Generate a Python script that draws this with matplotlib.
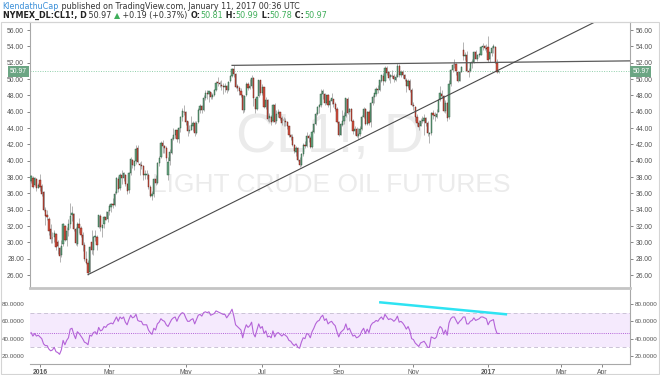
import matplotlib
matplotlib.use("Agg")
import matplotlib.pyplot as plt
import matplotlib.transforms as mtransforms
import numpy as np
import pandas as pd

# daily bars CL1!, Dec 24 2015 .. Jan 11 2017
opens = [
    37.50, 37.90, 37.00, 37.70, 36.60,
    37.60, 36.90, 36.20, 34.00, 33.40, 32.90, 31.60, 30.50, 30.60, 31.00, 30.00, 29.30, 28.40, 29.80, 32.00, 30.30, 31.50, 32.30, 33.30,
    33.50, 31.60, 29.80, 32.30, 31.70, 30.90, 29.70, 28.00, 27.50, 26.40, 30.00, 29.10, 30.60, 30.70, 31.90, 33.20, 31.80, 32.20, 33.10, 32.90,
    33.80, 34.30, 34.70, 34.60, 36.00, 37.80, 36.60, 38.30, 37.90, 38.30, 37.20, 36.40, 38.50, 40.10, 39.40, 40.00, 41.50, 39.60, 39.50, 39.30, 38.30, 38.30,
    38.30, 36.80, 35.70, 35.90, 37.80, 37.30, 39.70, 40.40, 42.20, 41.80, 41.50, 38.30, 39.90, 41.00, 42.60, 43.20, 43.70, 42.60, 44.00, 45.30, 46.00,
    45.90, 44.80, 43.60, 43.80, 44.30, 44.60, 43.40, 44.70, 46.20, 46.70, 46.20, 47.70, 48.30, 48.20, 48.40, 47.80, 48.10, 48.60, 49.60, 49.50, 49.30,
    49.10, 49.00, 49.20, 48.60, 49.70, 50.40, 51.20, 50.60, 49.10, 48.90, 48.50, 48.00, 46.20, 48.00, 49.40, 48.90, 49.10, 50.10, 47.60, 46.30, 47.90, 49.90,
    48.30, 49.00, 46.60, 47.40, 45.20, 45.40, 44.80, 46.80, 44.80, 45.70, 45.90, 45.20, 45.00, 44.90, 44.70, 44.20, 43.10, 42.90, 41.90, 41.10,
    41.60, 40.10, 39.50, 40.80, 41.90, 41.80, 43.00, 42.80, 41.70, 43.50, 44.50, 45.70, 46.60, 46.80, 48.20, 48.20, 47.10, 48.10, 46.80, 47.30, 47.60, 47.00, 46.30,
    44.70, 43.20, 44.40, 44.80, 45.50, 47.60, 45.90, 46.30, 44.90, 43.60, 43.90, 43.00, 43.30, 43.90, 45.30, 46.30, 44.50, 45.90, 44.70, 47.10, 47.80,
    48.20, 48.80, 48.70, 49.80, 50.40, 49.80, 51.30, 50.80, 50.20, 50.40, 50.40, 49.90, 50.30, 51.60, 50.50, 50.80, 50.50, 49.90, 49.20, 49.70, 48.70,
    46.80, 46.60, 45.30, 44.60, 44.30, 44.90, 44.80, 45.20, 44.60, 43.30, 43.40, 45.80, 45.60, 45.40, 46.00, 47.50, 48.20, 47.90, 46.10, 47.10, 45.30,
    49.40, 51.10, 51.80, 51.80, 50.90, 49.80, 50.80, 53.50, 52.80, 53.00, 51.00, 51.00, 51.90, 52.10, 53.30, 52.50, 52.90, 53.00, 53.90, 54.00, 53.80,
    53.90, 52.40, 53.20, 53.80, 53.90, 51.90, 50.81,
]
highs = [
    38.30, 38.10, 38.00, 37.90, 37.30,
    38.39, 37.10, 36.30, 34.30, 34.00, 33.10, 32.20, 31.30, 31.50, 31.10, 30.30, 29.40, 30.25, 32.35, 32.10, 31.90, 32.90, 34.82, 34.40,
    33.60, 31.90, 32.50, 33.00, 32.00, 31.30, 30.00, 29.00, 27.80, 29.50, 31.50, 30.80, 31.50, 30.90, 33.40, 33.50, 32.30, 33.20, 33.80, 34.00,
    34.70, 34.80, 35.40, 36.30, 38.00, 38.10, 38.50, 38.90, 38.60, 38.40, 37.30, 38.60, 40.50, 40.20, 40.00, 41.90, 41.90, 39.80, 39.90, 39.50, 38.90, 38.80,
    38.50, 37.00, 36.30, 37.90, 38.20, 39.80, 40.60, 42.40, 42.50, 41.90, 41.80, 40.40, 41.40, 42.90, 44.00, 43.80, 43.80, 44.10, 45.50, 46.50, 46.80,
    46.10, 44.90, 44.40, 45.50, 44.90, 44.90, 44.80, 46.40, 46.90, 46.80, 48.00, 48.70, 48.70, 48.50, 48.40, 48.30, 48.80, 49.80, 50.20, 49.70, 49.90,
    49.50, 49.50, 49.30, 49.80, 50.50, 51.34, 51.67, 50.70, 49.40, 49.10, 48.90, 48.10, 48.10, 49.60, 49.60, 50.00, 50.50, 50.20, 47.70, 47.90, 49.90, 49.90,
    49.40, 49.00, 47.80, 47.60, 45.80, 45.60, 46.90, 47.10, 46.20, 46.30, 46.00, 45.50, 45.40, 45.20, 44.90, 44.30, 43.30, 43.30, 42.00, 41.80,
    41.70, 40.50, 41.00, 42.20, 42.40, 43.50, 43.30, 43.00, 43.80, 44.60, 45.90, 46.70, 47.00, 48.80, 48.80, 48.30, 48.10, 48.20, 47.50, 48.30, 47.60, 47.20, 46.60,
    44.90, 44.60, 46.20, 45.90, 47.70, 47.80, 46.50, 46.40, 45.10, 44.20, 44.10, 44.00, 44.20, 45.60, 46.60, 46.40, 46.10, 46.20, 47.20, 48.00, 48.30,
    49.00, 49.30, 49.90, 50.50, 50.70, 51.60, 51.60, 51.00, 50.60, 51.10, 50.60, 50.60, 51.93, 51.80, 51.10, 51.10, 50.60, 50.10, 50.00, 50.00, 48.90,
    47.20, 46.70, 45.70, 45.00, 45.20, 45.50, 45.70, 45.40, 44.80, 43.50, 46.00, 46.20, 46.00, 46.30, 47.60, 49.20, 48.60, 48.00, 47.40, 47.20, 49.90,
    51.20, 51.90, 52.40, 51.90, 51.00, 51.00, 51.60, 54.51, 53.30, 53.40, 51.30, 52.10, 52.40, 53.40, 53.60, 53.10, 53.20, 54.10, 54.40, 54.20, 54.30,
    55.24, 53.30, 54.00, 54.30, 54.00, 52.40, 50.99,
]
lows = [
    37.30, 36.60, 36.90, 36.30, 36.60,
    36.33, 35.70, 33.80, 32.10, 32.70, 30.90, 29.90, 29.90, 30.00, 29.10, 28.60, 27.56, 28.20, 29.60, 30.20, 29.60, 30.80, 31.80, 32.60,
    31.40, 29.70, 29.60, 31.10, 30.60, 29.00, 27.70, 27.30, 26.05, 26.30, 28.60, 28.40, 30.20, 29.10, 31.70, 31.40, 30.60, 31.80, 32.70, 32.50,
    33.30, 33.70, 34.20, 34.50, 35.90, 36.20, 36.40, 37.20, 37.50, 36.90, 35.90, 36.00, 38.30, 39.10, 38.90, 39.60, 39.70, 38.30, 39.00, 37.60, 37.80, 37.80,
    36.50, 35.60, 35.24, 35.60, 37.00, 37.20, 39.40, 40.30, 40.90, 40.90, 40.00, 37.60, 39.50, 40.80, 42.50, 42.80, 42.30, 42.20, 43.50, 44.90, 45.60,
    44.40, 43.00, 43.40, 43.70, 43.60, 43.00, 43.30, 44.60, 45.80, 45.80, 46.10, 47.40, 47.60, 47.20, 47.60, 47.60, 47.90, 48.50, 49.10, 49.00, 48.70,
    48.20, 48.40, 48.30, 48.50, 49.60, 50.20, 50.30, 48.90, 48.50, 48.00, 47.80, 45.80, 46.00, 47.90, 48.60, 48.80, 48.90, 46.70, 45.80, 46.20, 47.80, 48.10,
    48.10, 46.40, 46.30, 44.90, 44.70, 44.40, 44.70, 44.50, 44.60, 45.30, 45.00, 44.40, 44.30, 44.20, 43.90, 42.90, 42.50, 41.80, 40.90, 40.60,
    39.90, 39.19, 39.30, 40.60, 41.50, 41.70, 42.30, 41.50, 41.60, 43.40, 44.40, 45.60, 45.80, 46.60, 47.50, 46.80, 46.90, 46.60, 46.00, 46.90, 46.60, 46.10, 44.60,
    43.00, 43.10, 44.20, 44.50, 45.30, 45.70, 44.90, 44.80, 43.30, 43.10, 42.90, 42.60, 43.00, 43.70, 45.20, 44.40, 44.40, 44.40, 44.10, 46.80, 47.10,
    47.90, 48.30, 48.50, 49.60, 49.30, 49.60, 50.50, 49.90, 49.50, 50.10, 49.60, 49.80, 50.20, 50.30, 50.30, 50.10, 49.80, 48.40, 48.90, 48.40, 46.70,
    46.20, 44.90, 44.30, 43.80, 44.20, 44.60, 43.10, 44.20, 43.00, 42.20, 43.20, 45.10, 44.80, 45.20, 45.90, 47.30, 47.70, 46.00, 45.80, 44.80, 45.10,
    49.20, 50.80, 51.30, 50.50, 49.60, 49.70, 50.80, 52.30, 52.30, 50.90, 50.20, 50.90, 51.40, 52.00, 52.40, 52.20, 52.70, 52.90, 53.60, 53.60, 53.30,
    52.10, 52.10, 52.80, 53.20, 51.90, 50.70, 50.78,
]
closes = [
    38.10, 36.81, 37.87, 36.60, 37.04,
    36.76, 35.97, 33.97, 33.27, 33.16, 31.41, 30.44, 30.48, 31.20, 29.42, 29.57, 28.35, 29.53, 32.19, 30.34, 31.45, 32.30, 33.22, 33.62,
    31.62, 29.88, 32.28, 31.72, 30.89, 29.69, 27.94, 27.45, 26.21, 29.44, 29.04, 30.66, 30.77, 29.64, 33.39, 31.87, 32.15, 33.07, 32.78, 33.75,
    34.40, 34.66, 34.57, 35.92, 37.90, 36.50, 38.29, 37.84, 38.50, 37.18, 36.34, 38.46, 40.20, 39.44, 39.91, 41.45, 39.79, 39.46, 39.39, 38.28, 38.32, 38.34,
    36.79, 35.70, 35.89, 37.75, 37.26, 39.72, 40.36, 42.17, 41.76, 41.50, 40.36, 39.78, 41.08, 42.63, 43.18, 43.73, 42.64, 44.04, 45.33, 46.03, 45.92,
    44.78, 43.65, 43.78, 44.32, 44.66, 43.44, 44.66, 46.23, 46.70, 46.21, 47.72, 48.31, 48.19, 48.49, 47.75, 48.08, 48.62, 49.56, 49.48, 49.33, 49.10,
    49.01, 49.17, 48.62, 49.69, 50.36, 51.23, 50.56, 49.07, 48.88, 48.49, 48.01, 46.21, 47.98, 49.37, 48.85, 49.13, 50.11, 47.64, 46.33, 47.85, 49.88, 48.33,
    48.99, 46.60, 47.43, 45.14, 45.41, 44.76, 46.80, 44.75, 45.68, 45.95, 45.24, 44.65, 44.94, 44.75, 44.19, 43.13, 42.92, 41.92, 41.14, 41.60,
    40.06, 39.51, 40.83, 41.93, 41.80, 43.02, 42.77, 41.71, 43.49, 44.49, 45.74, 46.58, 46.79, 48.22, 48.52, 47.05, 48.10, 46.77, 47.33, 47.64, 46.98, 46.35, 44.70,
    43.16, 44.44, 44.83, 45.50, 47.62, 45.88, 46.29, 44.90, 43.58, 43.91, 43.03, 43.30, 43.85, 45.34, 46.32, 44.48, 45.93, 44.67, 47.05, 47.83, 48.24,
    48.81, 48.69, 49.83, 50.44, 49.81, 51.35, 50.79, 50.18, 50.44, 50.35, 49.94, 50.29, 51.60, 50.43, 50.85, 50.52, 49.96, 49.18, 49.72, 48.70, 46.86,
    46.67, 45.34, 44.66, 44.07, 44.89, 44.98, 45.27, 44.66, 43.41, 43.32, 45.81, 45.57, 45.42, 45.69, 47.49, 48.24, 47.96, 46.06, 47.08, 45.23, 49.44,
    51.06, 51.68, 51.79, 50.93, 49.77, 50.84, 51.50, 52.83, 52.98, 51.04, 50.90, 51.90, 52.12, 53.30, 52.49, 52.95, 53.02, 53.90, 54.06, 53.77, 53.72,
    52.33, 53.26, 53.76, 53.99, 51.96, 50.82, 50.97,
]
rsi = [
    47, 43, 46, 43, 44,
    42, 40, 34, 32, 32, 28, 26, 27, 30, 25, 24, 22, 27, 38, 33, 38, 41, 51, 52,
    45, 40, 48, 46, 43, 40, 36, 35, 33, 44, 43, 47, 48, 45, 53, 49, 50, 54, 53, 56,
    57, 58, 57, 61, 65, 60, 65, 63, 65, 59, 56, 62, 67, 64, 65, 68, 61, 60, 60, 56, 56, 56,
    50, 47, 45, 52, 50, 57, 59, 63, 61, 60, 56, 54, 58, 62, 64, 65, 60, 65, 68, 70, 69,
    64, 60, 60, 62, 63, 57, 62, 67, 68, 66, 70, 71, 70, 71, 67, 68, 69, 72, 71, 70, 69,
    68, 68, 64, 67, 70, 74, 66, 56, 54, 52, 50, 41, 50, 56, 53, 55, 59, 46, 42, 50, 57, 52,
    54, 46, 49, 42, 43, 41, 49, 42, 46, 47, 45, 43, 45, 44, 42, 38, 37, 34, 32, 34,
    30, 29, 36, 41, 40, 46, 45, 41, 48, 52, 57, 60, 61, 65, 67, 61, 63, 57, 59, 60, 57, 55, 48,
    42, 47, 49, 51, 57, 50, 52, 47, 43, 44, 41, 42, 44, 49, 52, 46, 51, 47, 55, 58, 59,
    61, 60, 63, 65, 62, 68, 65, 62, 63, 62, 60, 62, 66, 59, 60, 58, 55, 51, 54, 49, 40,
    39, 35, 33, 31, 35, 36, 37, 34, 30, 30, 42, 41, 40, 42, 50, 54, 52, 45, 50, 44, 58,
    63, 65, 65, 61, 57, 60, 62, 65, 65, 57, 57, 60, 61, 64, 61, 62, 63, 65, 65, 64, 63,
    56, 60, 61, 62, 52, 46, 46,
]
assert len(opens) == len(highs) == len(lows) == len(closes) == len(rsi) == 264

holidays = ["2015-12-25", "2016-01-01", "2016-01-18", "2016-02-15", "2016-03-25", "2016-05-30",
            "2016-07-04", "2016-09-05", "2016-11-24", "2016-12-26", "2017-01-02"]
tick_dates = ["2016-01-04", "2016-03-01", "2016-05-02", "2016-07-01", "2016-09-01",
              "2016-11-01", "2017-01-03", "2017-03-01", "2017-04-03"]
tick_labels = ["2016", "Mar", "May", "Jul", "Sep", "Nov", "2017", "Mar", "Apr"]

# drawn lines: (bar, value) anchors
resistance = [(113, 51.67), (336.8, 52.22)]
support = [(32, 26.05), (336.8, 59.12)]
rsi_div = [(195.7, 82.0), (267.7, 68.0)]
last_price = 50.97
rsi_mid = 46

bday = pd.offsets.CustomBusinessDay(holidays=holidays)
dates = pd.date_range("2015-12-24", periods=360, freq=bday)
tick_pos = [dates.searchsorted(pd.Timestamp(d)) for d in tick_dates]

plt.rcParams["font.family"] = ["Liberation Sans", "DejaVu Sans"]

fig = plt.figure(figsize=(6.6, 3.75), dpi=100)
W, H = 660.0, 375.0
ax = fig.add_axes([29.5 / W, 1 - 288 / H, 600.5 / W, 266 / H])
ax2 = fig.add_axes([29.5 / W, 1 - 364 / H, 600.5 / W, 74 / H])

x = np.arange(len(closes))
o = np.array(opens)
c = np.array(closes)
up = c >= o
ax.vlines(x, lows, highs, color="#a8a8a8", lw=0.6, zorder=2)
body_col = np.where(up, "#6ba583", "#d75442")
edge_col = np.where(up, "#225437", "#5b1a13")
ax.bar(x, np.maximum(np.abs(c - o), 0.06), bottom=np.minimum(o, c), width=0.7,
       color=body_col, edgecolor=edge_col, linewidth=0.3, zorder=3)

ax.text(0.5, 0.565, "CL1!, D", transform=ax.transAxes, fontsize=40, color="#ebebeb",
        ha="center", va="center", zorder=0)
ax.text(0.503, 0.387, "LIGHT CRUDE OIL FUTURES", transform=ax.transAxes, fontsize=19,
        color="#ebebeb", ha="center", va="center", zorder=0)

ax.plot(*zip(*resistance), color="#5a5a5a", lw=0.9, zorder=4)
ax.plot(*zip(*support), color="#4a4a4a", lw=0.8, zorder=4)
ax.axhline(last_price, color="#8fcfaa", lw=0.7, ls=(0, (1, 1.5)), zorder=1)

ax.set_xlim(-0.9, 336.8)
ax.set_ylim(24.41, 56.98)
ax.set_yticks(np.arange(26, 57, 2))
ax.set_yticklabels([f"{v:.2f}" for v in np.arange(26, 57, 2)])
ax.tick_params(axis="y", left=True, right=True, labelleft=True, labelright=True,
               labelsize=4.9, colors="#555555", length=2.5, width=0.5, pad=1.5)
ax.tick_params(axis="x", bottom=False, labelbottom=False)

bt = mtransforms.blended_transform_factory(ax.transAxes, ax.transData)
for xa, ha in [(-0.004, "right"), (1.004, "left")]:
    ax.text(xa, last_price, "50.97", transform=bt, ha=ha, va="center", fontsize=4.9,
            color="white", zorder=6,
            bbox=dict(boxstyle="square,pad=0.3", fc="#6ba583", ec="none"))

for s in ["left", "right"]:
    ax.spines[s].set_color("#a8a8a8")
    ax.spines[s].set_linewidth(0.8)
ax.spines["top"].set_color("#d0d0d0")
ax.spines["top"].set_linewidth(0.8)
ax.spines["bottom"].set_color("#c4c4c4")
ax.spines["bottom"].set_linewidth(2)

# RSI pane
ax2.axhspan(30, 70, color="#f5eafd", lw=0, zorder=0)
ax2.axhline(70, color="#cbc3d6", lw=0.7, ls=(0, (4, 3)), zorder=1)
ax2.axhline(30, color="#cbc3d6", lw=0.7, ls=(0, (4, 3)), zorder=1)
ax2.axhline(rsi_mid, color="#b463d8", lw=0.7, ls=(0, (1, 1.2)), zorder=1)
ax2.plot(x, rsi, color="#b463d8", lw=0.8, zorder=3)
ax2.plot(*zip(*rsi_div), color="#2ee3f2", lw=1.8, solid_capstyle="butt", zorder=4)

ax2.set_xlim(-0.9, 336.8)
ax2.set_ylim(10.8, 96.1)
ax2.set_yticks([20, 40, 60, 80])
ax2.set_yticklabels([f"{v:.4f}" for v in [20, 40, 60, 80]])
ax2.tick_params(axis="y", left=False, right=True, labelleft=True, labelright=True,
                labelsize=4.5, colors="#555555", length=2.5, width=0.5, pad=1.0)
ax2.set_xticks(tick_pos)
ax2.set_xticklabels(tick_labels)
ax2.tick_params(axis="x", labelsize=4.9, colors="#555555", length=2, width=0.5, pad=1.5)
for lab in ax2.get_xticklabels():
    if lab.get_text().isdigit():
        lab.set_fontweight("bold")
ax2.spines["top"].set_visible(False)
ax2.spines["left"].set_visible(False)
ax2.spines["right"].set_color("#a8a8a8")
ax2.spines["right"].set_linewidth(0.8)
ax2.spines["bottom"].set_color("#a8a8a8")
ax2.spines["bottom"].set_linewidth(0.8)

fig.patches.append(plt.Rectangle((0.001, 0.002), 0.998, 1 - 22 / H - 0.002, transform=fig.transFigure,
                                 fill=False, ec="#d4d4d4", lw=0.8))

# header text
renderer = fig.canvas.get_renderer()


def header_line(y, parts):
    xpos = 0.004
    for txt, col, wt in parts:
        t = fig.text(xpos, y, txt, color=col, fontsize=5.8, fontweight=wt, va="center",
                     family=["DejaVu Sans"])
        xpos += t.get_window_extent(renderer=renderer).width / fig.bbox.width


green = "#3fae5a"
header_line(1 - 6.5 / H, [("KlendathuCap", "#3a8fd8", "normal"),
                          (" published on TradingView.com, January 11, 2017 00:36 UTC", "#333333", "normal")])
header_line(1 - 15.5 / H, [("NYMEX_DL:CL1!, D", "#222222", "bold"), (" 50.97 ", "#333333", "normal"),
                           ("▲", green, "normal"), (" +0.19 (+0.37%) ", "#333333", "normal"),
                           ("O:", "#222222", "bold"), ("50.81", green, "normal"),
                           (" H:", "#222222", "bold"), ("50.99", green, "normal"),
                           (" L:", "#222222", "bold"), ("50.78", green, "normal"),
                           (" C:", "#222222", "bold"), ("50.97", green, "normal")])

fig.savefig("out.png", dpi=100)
